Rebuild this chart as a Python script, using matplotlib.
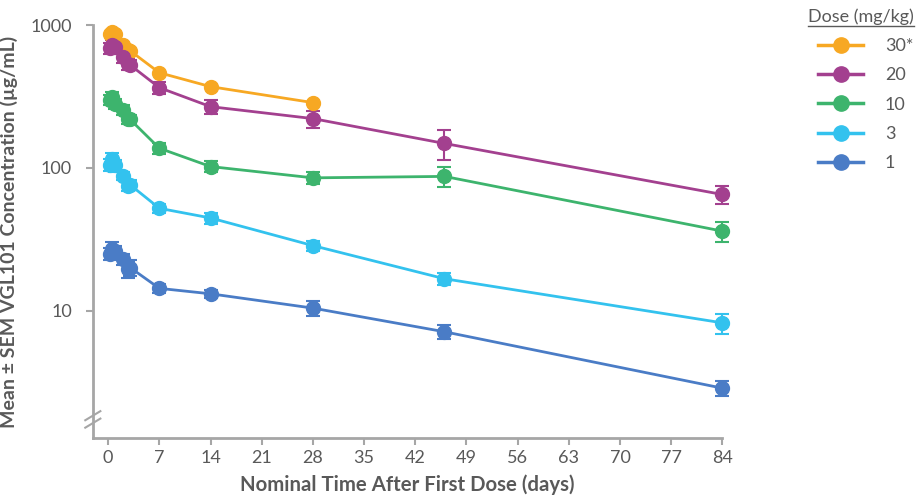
import matplotlib
matplotlib.use("Agg")
import matplotlib.pyplot as plt
from matplotlib.lines import Line2D

plt.rcParams["font.family"] = ["Lato", "DejaVu Sans"]

# nominal sampling days
days = [0.25, 0.5, 1, 2, 2.7, 3, 7, 14, 28, 46, 84]
days_30 = days[:9]

# mean concentration (ug/mL) per dose group
conc_30 = [870, 900, 860, 720, 670, 660, 463, 370, 286]
conc_20 = [690, 720, 700, 600, 530, 525, 364, 268, 221, 148, 65]
conc_10 = [300, 312, 280, 255, 220, 218, 137, 102, 85, 87, 36]
conc_3 = [105, 115, 104, 88, 75, 76, 52, 44.5, 28.5, 16.7, 8.2]
conc_1 = [25, 27, 26, 23, 19.5, 20, 14.3, 13.1, 10.4, 7.1, 2.86]

# SEM
sem_20 = [60, 70, 60, 55, 45, 40, 35, 30, 30, 35, 9]
sem_10 = [25, 28, 22, 20, 18, 16, 12, 9, 8, 14, 6]
sem_3 = [10, 12, 10, 6, 6, 6, 4, 4, 2.2, 1.5, 1.3]
sem_1 = [2.5, 3, 2.5, 2, 2.5, 2.5, 1, 0.9, 1.3, 0.8, 0.35]

labels = ["30*", "20", "10", "3", "1"]
colors = ["#F7A823", "#A3408F", "#3DB46D", "#33C2EE", "#4A7CC6"]

fig = plt.figure(figsize=(9.19, 5.0), dpi=100)
ax = fig.add_axes([0.101, 0.124, 0.685, 0.826])

series = [
    (days_30, conc_30, None),
    (days, conc_20, sem_20),
    (days, conc_10, sem_10),
    (days, conc_3, sem_3),
    (days, conc_1, sem_1),
]
for (x, y, err), c in zip(series, colors):
    ax.errorbar(x, y, yerr=err, color=c, lw=2, marker="o", ms=10,
                capsize=5, capthick=1.5, elinewidth=1.5, clip_on=False, zorder=3)

ax.set_yscale("log")
ax.set_ylim(1.28, 1000)
ax.set_xlim(-2.1, 84)
ax.set_xticks(range(0, 85, 7))
ax.set_yticks([10, 100, 1000])
ax.set_yticklabels(["10", "100", "1000"])
ax.yaxis.set_minor_locator(matplotlib.ticker.NullLocator())

grey = "#A6A6A6"
txt = "#595959"
for s in ["top", "right"]:
    ax.spines[s].set_visible(False)
for s in ["left", "bottom"]:
    ax.spines[s].set_color(grey)
    ax.spines[s].set_linewidth(2)
ax.tick_params(axis="x", colors=grey, length=5, width=1.5, labelcolor=txt, labelsize=13)
ax.tick_params(axis="y", colors=grey, length=5, width=1.5, labelcolor=txt,
               labelsize=13, pad=10)

ax.set_xlabel("Nominal Time After First Dose (days)", fontsize=14.7, fontweight="bold",
              color=txt, labelpad=6)
ax.set_ylabel("Mean \u00b1 SEM VGL101 Concentration (\u00b5g/mL)", fontsize=14,
              fontweight="bold", color=txt, labelpad=9)

# axis break marks
for dy in (0.0, 0.018):
    ax.plot([-0.012, 0.012], [0.025 + dy, 0.047 + dy], transform=ax.transAxes,
            color=grey, lw=1.5, clip_on=False)

# legend title, underlined
title = fig.text(808 / 919, 1 - 17 / 500, "Dose (mg/kg)", fontsize=13, color=txt,
                 ha="left", va="center")
fig.canvas.draw()
bb = title.get_window_extent().transformed(fig.transFigure.inverted())
fig.add_artist(Line2D([bb.x0, bb.x1], [bb.y0 - 0.002, bb.y0 - 0.002],
                      transform=fig.transFigure, color=txt, lw=1))

handles = [Line2D([], [], color=c, lw=2.5, marker="o", ms=11) for c in colors]
leg = fig.legend(handles, labels, loc="upper left", bbox_to_anchor=(818 / 919, 1 - 38 / 500),
                 frameon=False, fontsize=13, borderpad=0, borderaxespad=0,
                 handlelength=2.5, labelspacing=0.74, handletextpad=1.2)
for t in leg.get_texts():
    t.set_color(txt)

fig.savefig("out.png", dpi=100)
